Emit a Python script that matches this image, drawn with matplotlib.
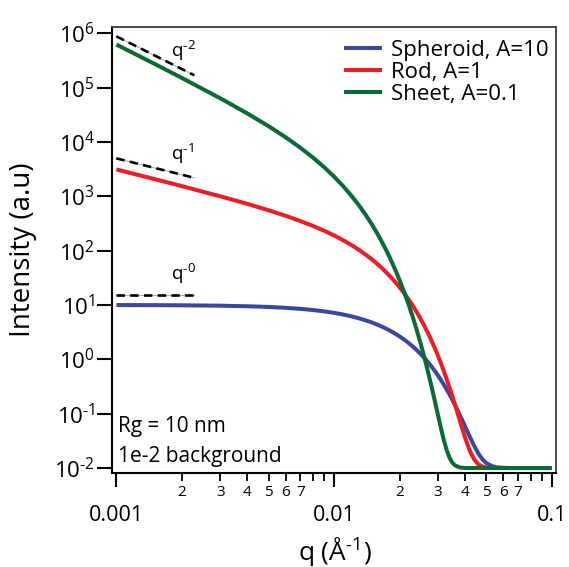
import math
import matplotlib
matplotlib.use("Agg")
import matplotlib.pyplot as plt
from matplotlib.ticker import FixedLocator, FuncFormatter, NullLocator

plt.rcParams["font.family"] = ["Open Sans", "DejaVu Sans"]
plt.rcParams["mathtext.fontset"] = "custom"
plt.rcParams["mathtext.rm"] = "Open Sans"
plt.rcParams["mathtext.it"] = "Open Sans:italic"
plt.rcParams["mathtext.default"] = "regular"

# scattering vector q (1/Angstrom)
q = [0.001, 0.0015, 0.002, 0.003, 0.004, 0.005, 0.006, 0.007, 0.008, 0.009,
     0.010, 0.011, 0.012, 0.013, 0.014, 0.015, 0.016, 0.017, 0.018, 0.019,
     0.020, 0.021, 0.022, 0.023, 0.024, 0.025, 0.026, 0.027, 0.028, 0.029,
     0.030, 0.031, 0.032, 0.033, 0.034, 0.035, 0.036, 0.038, 0.040, 0.042,
     0.044, 0.046, 0.048, 0.050, 0.053, 0.056, 0.060, 0.065, 0.070, 0.080,
     0.090, 0.100]

spheroid = [9.977, 9.935, 9.878, 9.715, 9.491, 9.210, 8.879, 8.503, 8.089, 7.644,
            7.175, 6.691, 6.198, 5.703, 5.213, 4.734, 4.270, 3.826, 3.406, 3.012,
            2.646, 2.309, 2.002, 1.725, 1.476, 1.255, 1.061, 0.890, 0.743, 0.616,
            0.508, 0.416, 0.339, 0.275, 0.222, 0.1785, 0.143, 0.0912, 0.0583, 0.0379,
            0.0258, 0.0186, 0.0146, 0.0124, 0.0109, 0.0103, 0.0101, 0.0100, 0.0100, 0.0100,
            0.0100, 0.0100]

rod = [3125.9, 2071.0, 1539.7, 1001.1, 725.0, 554.5, 437.3, 351.3, 285.2, 232.8,
       190.5, 156.0, 127.4, 103.8, 84.22, 67.98, 54.58, 43.57, 34.53, 27.19,
       21.27, 16.50, 12.71, 9.71, 7.358, 5.531, 4.123, 3.050, 2.236, 1.626,
       1.173, 0.839, 0.597, 0.421, 0.295, 0.206, 0.144, 0.0705, 0.0363, 0.0210,
       0.0145, 0.0117, 0.0107, 0.0102, 0.0100, 0.0100, 0.0100, 0.0100, 0.0100, 0.0100,
       0.0100, 0.0100]

sheet = [622070, 273040, 150920, 63804, 33464, 19574, 12177, 7855.8, 5176.7, 3450.8,
         2311.5, 1548.5, 1033.8, 686.0, 451.6, 294.3, 189.7, 120.8, 75.96, 47.09,
         28.78, 17.33, 10.28, 6.00, 3.447, 1.951, 1.088, 0.598, 0.3255, 0.1763,
         0.0962, 0.0538, 0.0319, 0.0208, 0.0152, 0.0125, 0.0111, 0.0102, 0.0100, 0.0100,
         0.0100, 0.0100, 0.0100, 0.0100, 0.0100, 0.0100, 0.0100, 0.0100, 0.0100, 0.0100,
         0.0100, 0.0100]

labels = ["Spheroid, A=10", "Rod, A=1", "Sheet, A=0.1"]
colors = ["#3a479e", "#ec1d25", "#0c6a37"]

# power-law guide segments
ref_q = [0.001, 0.00228]
ref_q2 = [8.8e5, 1.69e5]
ref_q1 = [5.0e3, 2.19e3]
ref_q0 = [15.0, 15.0]
ref_labels = ["q$^{\u20102}$", "q$^{\u20101}$", "q$^{\u20100}$"]

# axis ticks
x_major = [0.001, 0.01, 0.1]
x_major_labels = ["0.001", "0.01", "0.1"]
x_minor = [m * d for d in (0.001, 0.01) for m in (2, 3, 4, 5, 6, 7, 8, 9)]
y_exponents = [-2, -1, 0, 1, 2, 3, 4, 5, 6]

fig = plt.figure(figsize=(5.69, 5.67), dpi=100)
ax = fig.add_axes([0.1963, 0.1663, 0.7809, 0.7855])

for ys, lab, c in zip([spheroid, rod, sheet], labels, colors):
    ax.plot(q, ys, color=c, lw=2.9, label=lab, solid_capstyle="butt")

for ys in (ref_q2, ref_q1, ref_q0):
    ax.plot(ref_q, ys, color="#9a9a9a", lw=0.6, zorder=3)
    ax.plot(ref_q, ys, color="black", lw=1.9, dashes=(3.2, 2.0), zorder=4)

ax.text(0.00179, 3.66e5, ref_labels[0], fontsize=13.5, va="baseline", ha="left")
ax.text(0.00179, 4.62e3, ref_labels[1], fontsize=13.5, va="baseline", ha="left")
ax.text(0.00179, 28.8, ref_labels[2], fontsize=13.5, va="baseline", ha="left")

ax.set_xscale("log")
ax.set_yscale("log")
ax.set_xlim(9.515e-4, 0.1047)
ax.set_ylim(8.2e-3, 1.29e6)

ax.xaxis.set_major_locator(FixedLocator(x_major))
ax.xaxis.set_minor_locator(FixedLocator(x_minor))


def major_fmt(v, pos):
    return x_major_labels[pos] if pos is not None and pos < len(x_major_labels) else ""


def minor_fmt(v, pos):
    m = v / 10 ** math.floor(math.log10(v) + 1e-9)
    k = int(round(m))
    return str(k) if 2 <= k <= 7 else ""


def y_fmt(v, pos):
    e = int(round(math.log10(v)))
    s = str(abs(e))
    if e < 0:
        s = "\u2010" + s
    return "$10^{" + s + "}$"


ax.xaxis.set_major_formatter(FuncFormatter(major_fmt))
ax.xaxis.set_minor_formatter(FuncFormatter(minor_fmt))
ax.yaxis.set_major_locator(FixedLocator([10.0 ** e for e in y_exponents]))
ax.yaxis.set_major_formatter(FuncFormatter(y_fmt))
ax.yaxis.set_minor_locator(NullLocator())

ax.tick_params(axis="x", which="major", direction="out", length=10, width=1.5,
               labelsize=15.5, pad=13)
ax.tick_params(axis="x", which="minor", direction="out", length=6, width=1.3,
               labelsize=11, pad=3)
ax.tick_params(axis="y", which="major", direction="out", length=10.5, width=1.5,
               labelsize=16, pad=1.5)

for side in ("left", "bottom"):
    ax.spines[side].set_linewidth(1.5)
    ax.spines[side].set_color("black")
for side in ("top", "right"):
    ax.spines[side].set_linewidth(1.3)
    ax.spines[side].set_color("#3c3c3c")

ax.text(0.014, 0.0914, "Rg = 10 nm", transform=ax.transAxes, fontsize=15,
        va="baseline", ha="left")
ax.text(0.014, 0.024, "1e-2 background", transform=ax.transAxes, fontsize=15,
        va="baseline", ha="left")

ax.legend(loc="upper left", bbox_to_anchor=(0.523, 0.9715), frameon=False,
          fontsize=16, handlelength=1.71, handletextpad=0.4, labelspacing=0.05,
          borderpad=0, borderaxespad=0)

fig.text(23 / 569, 1 - 250 / 567, "Intensity (a.u)", rotation=90, fontsize=20,
         ha="center", va="center")
fig.text(335 / 569, 1 - 552 / 567, "q (Å$^{\u20101}$)", fontsize=19,
         ha="center", va="center")

fig.savefig("out.png", dpi=100)
